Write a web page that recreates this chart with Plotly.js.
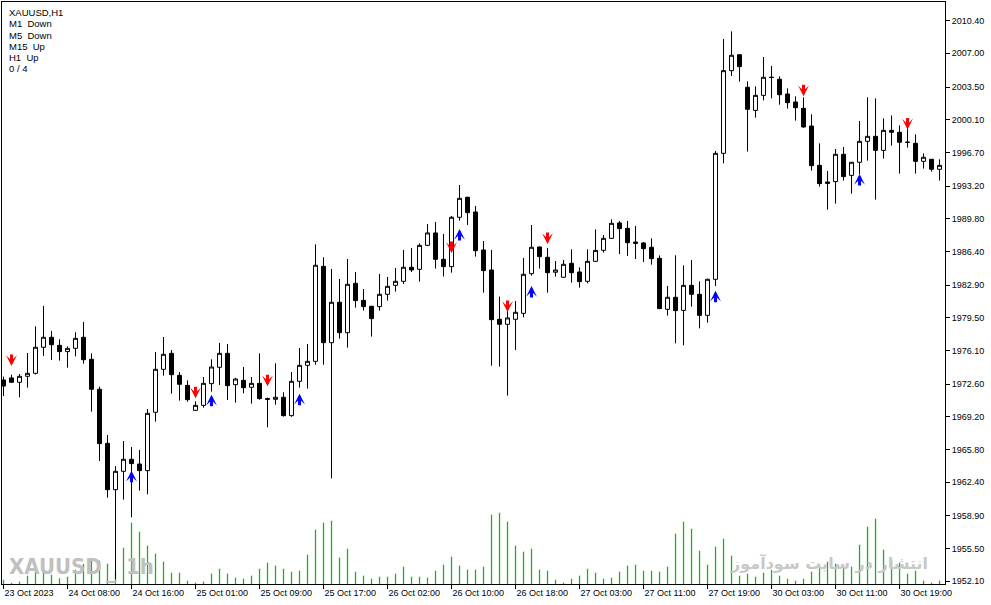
<!DOCTYPE html>
<html><head><meta charset="utf-8">
<script src="https://cdn.plot.ly/plotly-3.0.1.min.js"></script>
<style>html,body{margin:0;padding:0;background:#fff;overflow:hidden}#chart{width:991px;height:605px}</style>
</head><body><div id="chart"></div><script>
// ---- data (XAUUSD, H1) ----
const open = [1973.03,1973.24,1972.79,1973.41,1973.72,1976.43,1977.47,1976.63,1975.98,1976.32,
1977.47,1975.18,1972.06,1966.44,1961.62,1963.53,1964.78,1964.29,1963.60,1969.67,
1974.14,1975.80,1973.51,1972.47,1969.87,1970.39,1972.65,1974.35,1975.80,1972.54,
1972.99,1972.27,1972.68,1971.09,1971.02,1971.23,1969.32,1972.89,1974.55,1974.97,
1984.85,1976.91,1981.11,1977.95,1983.08,1981.31,1980.69,1980.66,1981.94,1982.87,
1983.29,1984.75,1984.54,1987.03,1988.32,1985.58,1984.82,1989.95,1992.03,1990.50,
1986.55,1984.47,1979.34,1978.82,1979.34,1979.96,1984.09,1986.86,1985.79,1984.23,
1983.71,1985.16,1984.26,1983.29,1985.37,1986.51,1987.76,1989.36,1988.80,1987.38,
1987.28,1986.83,1985.68,1980.38,1981.63,1980.27,1982.87,1981.94,1979.75,1983.50,
1996.60,2005.20,2006.86,2003.47,2001.07,2002.63,2004.50,2004.30,2002.77,2001.94,
2001.28,1999.44,1995.35,1993.62,1993.66,1996.50,1994.31,1995.67,1997.85,1998.37,
1996.91,1998.99,1998.79,1997.75,1997.64,1995.77,1995.98,1994.94];
const high = [1973.38,1973.58,1973.65,1975.84,1978.61,1980.73,1978.13,1977.26,1976.53,1977.99,
1979.06,1975.80,1972.34,1967.31,1964.08,1966.68,1966.06,1965.75,1970.01,1975.94,
1977.50,1976.15,1973.86,1972.99,1970.81,1973.34,1975.18,1976.88,1976.77,1973.24,
1974.38,1973.34,1975.80,1971.20,1974.76,1971.75,1973.86,1976.36,1976.77,1987.14,
1985.79,1984.57,1983.53,1985.61,1984.26,1982.49,1980.75,1984.05,1983.74,1984.68,
1986.55,1986.76,1987.24,1989.25,1989.46,1988.21,1990.09,1993.31,1992.10,1991.13,
1987.49,1986.55,1981.70,1980.31,1981.24,1985.72,1989.15,1986.90,1986.76,1985.40,
1985.51,1986.62,1984.75,1986.62,1988.70,1988.11,1989.74,1989.57,1989.57,1989.05,
1987.38,1987.76,1985.99,1982.81,1986.00,1984.95,1985.51,1983.29,1983.57,1996.84,
2008.49,2009.29,2006.90,2004.09,2003.57,2006.62,2005.69,2004.61,2003.36,2002.53,
2002.43,2000.66,1997.64,1994.77,1997.05,1997.26,1995.70,1999.97,2002.43,2002.32,
2000.24,2000.55,1999.51,1999.55,1998.58,1996.60,1996.00,1995.98];
const low = [1971.37,1972.75,1971.23,1972.23,1973.60,1975.53,1975.11,1975.04,1974.31,1975.49,
1974.73,1969.74,1964.60,1960.79,1952.33,1960.58,1958.75,1961.52,1961.14,1968.70,
1973.48,1971.61,1970.88,1970.77,1969.80,1970.15,1971.82,1972.51,1970.95,1970.67,
1971.64,1970.57,1970.98,1968.11,1970.46,1969.22,1969.20,1972.23,1972.13,1974.62,
1974.62,1962.80,1977.33,1976.39,1980.55,1980.24,1977.54,1980.24,1981.28,1982.22,
1983.01,1984.26,1983.26,1986.95,1984.61,1983.78,1984.19,1989.60,1989.15,1985.86,
1982.11,1974.52,1974.41,1971.40,1976.15,1979.55,1983.88,1984.61,1982.11,1983.78,
1983.65,1983.15,1982.63,1983.08,1985.30,1986.27,1987.70,1986.13,1985.93,1985.61,
1985.30,1985.02,1980.40,1979.72,1976.84,1976.63,1980.65,1978.40,1978.99,1982.80,
1995.56,2004.65,2004.06,1996.78,2000.31,2002.11,2002.32,2001.66,2001.25,2000.00,
1999.27,1994.80,1993.14,1990.74,1991.37,1993.76,1992.41,1994.45,1995.84,1991.78,
1996.05,1997.40,1994.49,1997.19,1994.49,1995.01,1994.70,1993.76];
const close = [1972.40,1972.79,1973.41,1973.72,1976.43,1977.47,1976.70,1975.98,1976.32,1977.36,
1975.14,1972.06,1966.41,1961.62,1963.53,1964.78,1964.33,1963.60,1969.56,1974.14,
1975.70,1973.58,1972.58,1970.98,1970.39,1972.68,1974.38,1975.80,1972.44,1973.13,
1972.23,1972.68,1971.09,1971.02,1971.23,1969.32,1972.89,1974.55,1974.97,1984.96,
1976.91,1981.11,1977.95,1982.98,1981.28,1980.66,1979.41,1981.94,1982.77,1983.29,
1984.75,1984.47,1987.03,1988.32,1985.58,1984.82,1989.95,1991.92,1990.43,1986.48,
1984.40,1979.30,1978.82,1979.48,1980.07,1984.02,1986.83,1985.86,1984.19,1984.47,
1985.06,1984.19,1983.26,1985.37,1986.51,1987.76,1989.32,1988.77,1987.31,1987.24,
1986.69,1985.65,1980.45,1981.63,1980.24,1982.87,1981.94,1979.75,1983.50,1996.60,
2005.20,2006.80,2005.62,2001.18,2002.63,2004.51,2004.50,2002.70,2001.87,2001.35,
1999.34,1995.32,1993.45,1993.48,1996.50,1994.18,1995.67,1997.85,1998.37,1996.91,
1998.99,1998.79,1997.75,1997.75,1995.77,1996.19,1994.94,1995.35];
const volume = [4.3,1,2.3,8.3,12.3,14.3,9.3,5.7,7.3,14.3,
20,24,23.3,20.3,13,36.3,61.3,52.3,38.3,30.3,
22.3,11.3,11.3,3.3,1.3,2.3,10.3,15.3,10.3,6.3,
5.3,8.3,15.3,21.3,18.3,15.3,12.3,13.3,29.3,54.3,
61.3,63.3,26.3,35.3,12.3,8.3,5.3,7.3,7.3,10.3,
17.3,7.3,7.3,6.3,13.3,19.3,27.3,18.3,14.3,14.3,
17.3,69.3,71.3,62.3,38.3,32.3,35.3,14.3,13.3,4.3,
1.3,5.3,8.3,15.3,11.3,5.3,6.3,12.3,18.3,19.3,
13.3,13.3,12.3,17.3,50.3,62.3,55.3,33.3,19.3,37.3,
45.3,28.3,8.3,10.3,7.3,11.3,14.3,8.3,5.3,3.3,
5.3,12.3,16.3,22.3,20.3,16.3,17.3,39.3,57.3,65.3,
34.3,23.3,21.3,10.3,13.3,3.3,1.3,3.3];
const barIndex = open.map((_, i) => i);
const timeTickIndex = [0,8,16,24,32,40,48,56,64,72,80,88,96,104,112];
const timeTickText = ['23 Oct 2023','24 Oct 08:00','24 Oct 16:00','25 Oct 01:00','25 Oct 09:00',
'25 Oct 17:00','26 Oct 02:00','26 Oct 10:00','26 Oct 18:00','27 Oct 03:00','27 Oct 11:00',
'27 Oct 19:00','30 Oct 03:00','30 Oct 11:00','30 Oct 19:00'];
const priceTicks = [2010.40,2007.00,2003.50,2000.10,1996.70,1993.20,1989.80,1986.40,1982.90,
1979.50,1976.10,1972.60,1969.20,1965.80,1962.40,1958.90,1955.50,1952.10];
const sellIndex = [1,24,33,56,63,68,100,113];
const sellLevel = [1974.48,1971.13,1972.38,1986.23,1980.10,1987.17,2002.54,1999.08];
const buyIndex = [16,26,37,57,66,89,107];
const buyLevel = [1963.59,1971.49,1971.60,1988.74,1982.81,1982.31,1994.46];
const infoLines = ['XAUUSD,H1','M1\u00a0 Down','M5\u00a0 Down','M15\u00a0 Up','H1\u00a0 Up','0 / 4'];
const watermarkSymbol = 'XAUUSD';
const watermarkSep = '_';
const watermarkPeriod = '1h';
const watermarkRight = 'انتشار در سایت سودآموز';

// ---- layout helpers ----
const M = {l: 2, r: 46, t: 2, b: 21};
const PW = 991 - M.l - M.r, PH = 605 - M.t - M.b;
const px = v => (v - M.l) / PW;
const py = v => (605 - M.b - v) / PH;
const tickFont = {family: 'Liberation Sans, Arial, sans-serif', size: 9, color: '#000'};

// volume histogram drawn as vertical segments from zero to each volume
const volX = [], volY = [];
barIndex.forEach((i, k) => { volX.push(i, i, null); volY.push(0, volume[k], null); });

const traces = [
  {type: 'scatter', mode: 'lines', x: volX, y: volY, yaxis: 'y', connectgaps: false,
   line: {color: '#1faf1f', width: 1.3}, hoverinfo: 'skip', showlegend: false},
  {type: 'candlestick', x: barIndex, open, high, low, close, yaxis: 'y2',
   increasing: {line: {color: '#000', width: 1}, fillcolor: '#ffffff'},
   decreasing: {line: {color: '#000', width: 1}, fillcolor: '#000000'},
   whiskerwidth: 0, hoverinfo: 'skip', showlegend: false}
];

const annotations = [];
sellIndex.forEach((x, k) => annotations.push({x, y: sellLevel[k], xref: 'x', yref: 'y2', text: '',
  showarrow: true, arrowhead: 3, arrowsize: 0.6, arrowwidth: 3, arrowcolor: '#ff0000', ax: 0, ay: -13, standoff: 0}));
buyIndex.forEach((x, k) => annotations.push({x, y: buyLevel[k], xref: 'x', yref: 'y2', text: '',
  showarrow: true, arrowhead: 3, arrowsize: 0.6, arrowwidth: 3, arrowcolor: '#0000ff', ax: 0, ay: 13, standoff: 0}));
const infoY = [12.5, 23.8, 35, 46.3, 57.5, 68.8];
infoLines.forEach((t, k) => annotations.push({text: t, xref: 'paper', yref: 'paper', x: px(7), y: py(infoY[k]),
  xanchor: 'left', yanchor: 'middle', showarrow: false, font: {family: 'Liberation Sans, Arial, sans-serif', size: 9.5, color: '#000'}}));
const wmFont = {family: 'Liberation Sans Narrow, DejaVu Sans Condensed, sans-serif', size: 22, color: '#c0c0c0', weight: 'bold'};
annotations.push({text: watermarkSymbol, xref: 'paper', yref: 'paper', x: px(7), y: py(566), xanchor: 'left', yanchor: 'middle',
  showarrow: false, font: wmFont});
annotations.push({text: watermarkSep, xref: 'paper', yref: 'paper', x: px(104), y: py(570), xanchor: 'left', yanchor: 'middle',
  showarrow: false, font: wmFont});
annotations.push({text: watermarkPeriod, xref: 'paper', yref: 'paper', x: px(124), y: py(566), xanchor: 'left', yanchor: 'middle',
  showarrow: false, font: wmFont});
annotations.push({text: watermarkRight, xref: 'paper', yref: 'paper', x: px(930), y: py(563), xanchor: 'right', yanchor: 'middle',
  showarrow: false, font: {family: 'DejaVu Sans, sans-serif', size: 16, color: '#c8c8c8', weight: 'bold'}});

const layout = {
  width: 991, height: 605, margin: {...M, pad: 0},
  paper_bgcolor: '#fff', plot_bgcolor: '#fff', showlegend: false, dragmode: false,
  boxgap: 0.5, boxgroupgap: 0,
  xaxis: {range: [-0.1875, 117.6825], showgrid: false, zeroline: false, showline: true, mirror: true,
    linecolor: '#000', linewidth: 1, ticks: 'outside', ticklen: 4, tickcolor: '#000', tickwidth: 1,
    tickmode: 'array', tickvals: timeTickIndex, ticktext: timeTickText, tickangle: 0,
    ticklabelposition: 'outside right', tickfont: tickFont, rangeslider: {visible: false}, fixedrange: true},
  yaxis: {range: [0, PH], showgrid: false, zeroline: false, showline: true, linecolor: '#000', linewidth: 1,
    showticklabels: false, ticks: '', fixedrange: true},
  yaxis2: {overlaying: 'y', side: 'right', range: [1951.81, 2012.34], showgrid: false, zeroline: false,
    showline: true, linecolor: '#000', linewidth: 1, ticks: 'outside', ticklen: 4, tickcolor: '#000',
    tickmode: 'array', tickvals: priceTicks, tickformat: '.2f', tickfont: tickFont, fixedrange: true},
  annotations
};
Plotly.newPlot('chart', traces, layout, {displayModeBar: false, staticPlot: true});
</script></body></html>
